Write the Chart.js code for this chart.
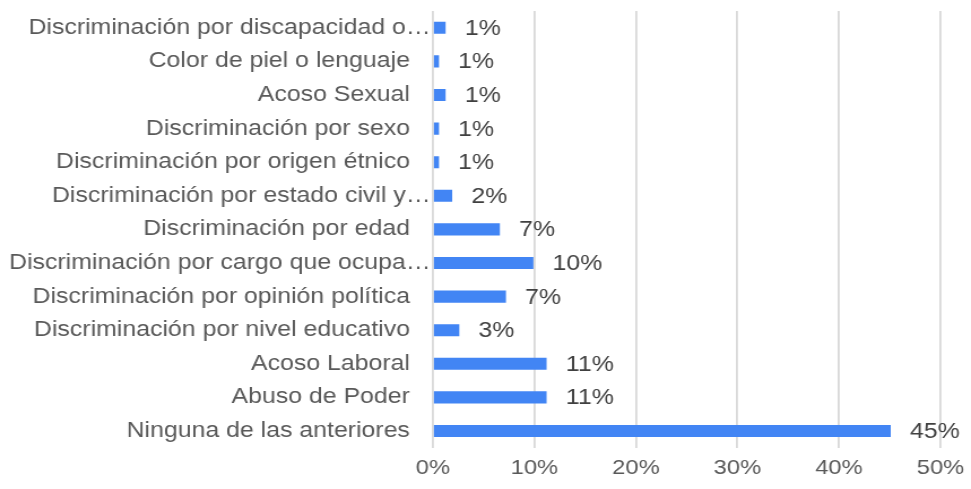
<!DOCTYPE html>
<html>
<head>
<meta charset="utf-8">
<script src="https://cdn.jsdelivr.net/npm/chart.js@4/dist/chart.umd.min.js"></script>
<style>
  body { margin: 0; background: #fff; }
  /* drawn a bit narrower and stretched to the page width, like the original export */
  #chart { width: 971px; height: 489px; }
</style>
</head>
<body>
<canvas id="chart" width="859" height="489" style="width:971px;height:489px"></canvas>
<script>
const categories = [
    "Discriminación por discapacidad o…",
    "Color de piel o lenguaje",
    "Acoso Sexual",
    "Discriminación por sexo",
    "Discriminación por origen étnico",
    "Discriminación por estado civil y…",
    "Discriminación por edad",
    "Discriminación por cargo que ocupa…",
    "Discriminación por opinión política",
    "Discriminación por nivel educativo",
    "Acoso Laboral",
    "Abuso de Poder",
    "Ninguna de las anteriores"
];
const percentages = [1.25, 0.6, 1.25, 0.6, 0.6, 1.9, 6.6, 9.9, 7.2, 2.6, 11.2, 11.2, 45.1];
const xTicks = [0, 10, 20, 30, 40, 50];

const FONT = "'Liberation Sans', Arial, sans-serif";

// value labels at the end of each bar
const barLabels = {
    id: "barLabels",
    afterDatasetsDraw(chart) {
        const ctx = chart.ctx;
        const meta = chart.getDatasetMeta(0);
        ctx.save();
        ctx.font = "22px " + FONT;
        ctx.fillStyle = "#404040";
        ctx.textAlign = "left";
        ctx.textBaseline = "middle";
        meta.data.forEach((bar, i) => {
            ctx.fillText(Math.round(percentages[i]) + "%", bar.x + 17, bar.y + 1);
        });
        ctx.restore();
    }
};

// no extra room for half labels at the ends of the axes
function noEdgePadding(axis) {
    axis.paddingTop = 0;
    axis.paddingBottom = 0;
    axis.paddingLeft = 0;
    axis.paddingRight = 0;
}

const ctx = document.getElementById("chart").getContext("2d");
new Chart(ctx, {
    type: "bar",
    data: {
        labels: categories,
        datasets: [{
            data: percentages,
            backgroundColor: "#4285f4",
            categoryPercentage: 1,
            barPercentage: 0.36
        }]
    },
    options: {
        indexAxis: "y",
        responsive: false,
        animation: false,
        layout: { padding: { top: 11, right: 27, left: 6, bottom: 0 } },
        plugins: {
            legend: { display: false },
            tooltip: { enabled: false }
        },
        scales: {
            x: {
                min: 0,
                max: 50,
                afterBuildTicks(axis) {
                    axis.ticks = xTicks.map(v => ({ value: v }));
                },
                afterFit: noEdgePadding,
                grid: { color: "#d9d9d9", lineWidth: 1.8, drawTicks: false },
                border: { display: false },
                ticks: {
                    padding: 8,
                    color: "#595959",
                    font: { family: FONT, size: 21 },
                    callback: v => v + "%"
                }
            },
            y: {
                afterFit: noEdgePadding,
                grid: { display: false, drawTicks: false },
                border: { display: false },
                ticks: {
                    padding: 2,
                    color: "#595959",
                    font: { family: FONT, size: 22 },
                    // labels that are not cut off sit a little away from the axis
                    callback(v, i) {
                        const lab = categories[i];
                        return lab.endsWith("…") ? lab : lab + "   ";
                    }
                }
            }
        }
    },
    plugins: [barLabels]
});
</script>
</body>
</html>
